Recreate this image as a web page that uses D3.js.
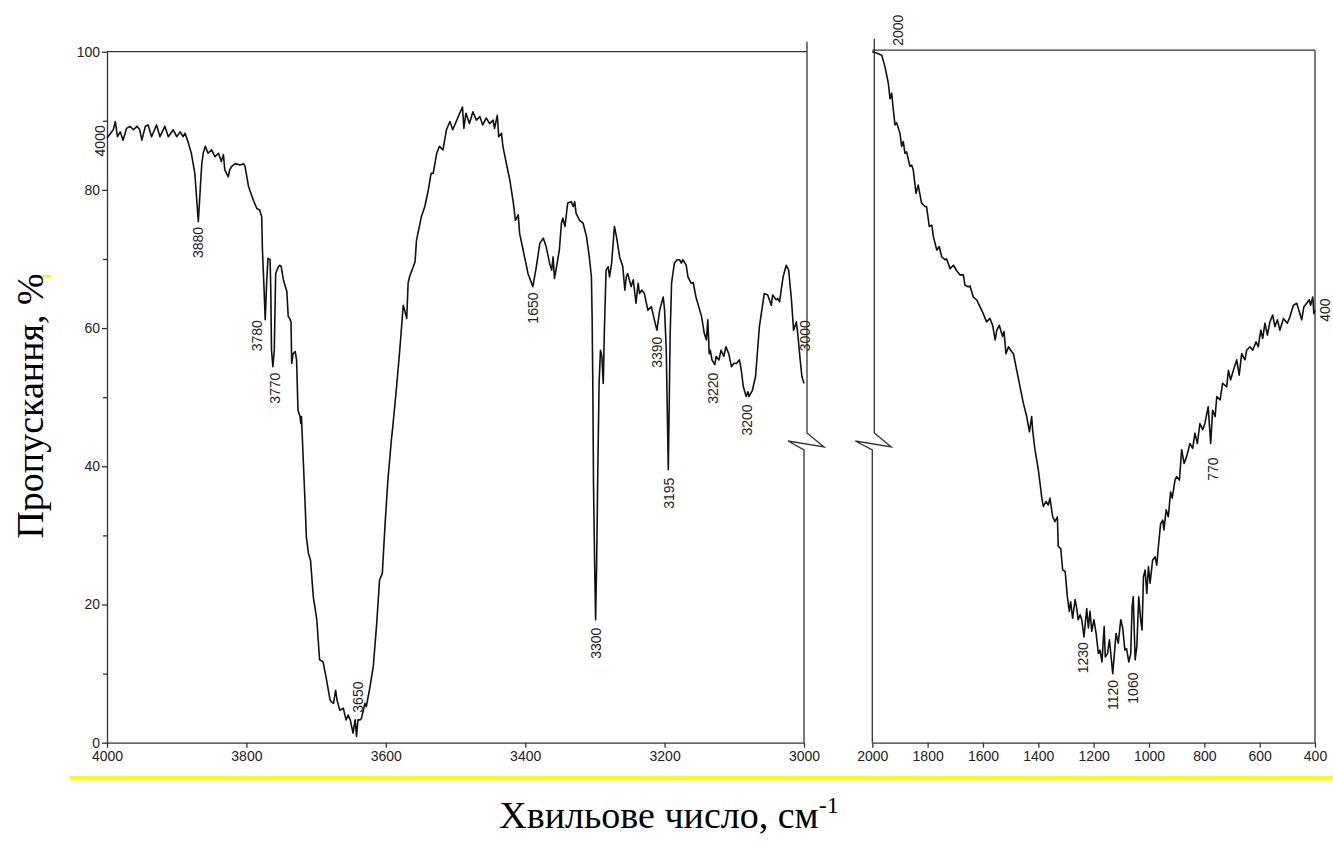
<!DOCTYPE html>
<html>
<head>
<meta charset="utf-8">
<script src="https://cdn.jsdelivr.net/npm/d3@7"></script>
<style>
  body { margin: 0; background: #fff; }
  svg text { font-family: "Liberation Sans", Arial, sans-serif; fill: #222; }
  .title { font-family: "Liberation Serif", "Times New Roman", serif; fill: #000; }
  .axis path, .axis line { stroke: #333; stroke-width: 1.3; }
  .axis text { font-size: 14px; }
</style>
</head>
<body>
<svg id="chart" width="1333" height="843"></svg>
<script>
// spectrum, 4000-3000 cm-1 (left panel)
const leftWn = [4000,3991,3988,3985,3981,3977,3972,3967,3962,3957,3953,3950,3945,3941,3936,3929,3924,3917,3912,3905,3900,3895,3891,3888,3883,3879,3874,3869,3866,3864,3862,3859,3855,3850,3845,3840,3836,3833,3831,3826,3824,3821,3816,3809,3804,3802,3797,3790,3785,3781,3778,3777,3775,3773,3771,3769,3766,3765,3764,3762,3760,3758,3754,3752,3750,3747,3742,3740,3738,3736,3735,3733,3730,3728,3726,3723,3722,3721,3718,3716,3714,3711,3708,3704,3699,3695,3690,3685,3680,3678,3675,3672,3670,3666,3661,3657,3654,3651,3647,3644,3642,3640,3637,3635,3630,3628,3623,3618,3613,3609,3605,3601,3597,3592,3590,3585,3580,3575,3573,3570,3568,3566,3558,3556,3549,3544,3539,3535,3532,3527,3523,3518,3513,3508,3504,3496,3490,3488,3485,3480,3475,3470,3465,3461,3456,3451,3446,3444,3440,3438,3434,3432,3427,3422,3417,3414,3410,3408,3403,3398,3396,3389,3384,3379,3374,3370,3365,3362,3360,3358,3355,3351,3348,3346,3343,3339,3334,3331,3329,3327,3322,3317,3312,3308,3305,3304,3303,3302,3300.4,3299,3297.5,3296,3294,3292,3290,3288,3286.5,3284,3281,3279,3276,3272,3269,3264.5,3260,3257,3255,3253,3248,3245,3241,3238,3236,3233,3229,3224,3219,3214,3211,3207,3202,3200,3197.6,3196,3194.7,3193.3,3192,3190,3186,3182,3178.5,3176,3174,3169,3166.5,3162,3159,3155,3147,3143,3140,3138,3136,3134.5,3132,3128,3126,3122,3119,3115,3112,3108,3104,3101,3097,3092.5,3090,3087,3083,3080.5,3079,3074,3069.5,3064,3057,3052,3047,3045,3040,3037.6,3035,3033,3030,3025.5,3022,3018,3015,3011,3009,3005.5,3003,3000];
const leftT = [87.5,88.7,89.9,87.7,88.4,87.2,88.9,89.2,88.7,89.2,88.7,87.2,89.2,89.4,87.7,89.4,87.7,89.2,87.7,88.7,87.7,88.4,87.7,88.2,86.7,85.3,82.4,75.4,80.5,83.8,85.3,86.3,85.3,85.8,84.8,85.3,84.1,85.1,82.9,81.9,82.9,83.4,83.8,83.6,83.8,83.4,80.5,78.5,77.3,77.1,76.1,71.3,66.5,61.2,66.5,70.1,69.9,65.5,56.8,54.4,56.8,67.9,68.9,69.1,68.9,67.0,65.3,61.7,61.4,60.9,54.9,56.3,56.6,55.4,48.1,47.2,46.2,47.2,39.9,35.1,29.8,27.4,26.4,21.1,17.8,12.0,11.7,9.1,6.2,5.9,5.7,7.6,6.2,4.7,5.0,3.3,4.0,3.3,1.4,3.3,0.9,3.3,3.3,3.5,5.7,5.2,7.9,11.0,17.3,23.5,24.5,31.7,38.0,43.8,45.7,51.0,56.8,63.3,62.6,61.4,66.5,67.4,69.6,72.7,76.1,77.6,80.0,82.4,82.4,85.3,86.3,85.8,88.7,89.9,88.7,90.6,92.0,88.9,91.1,89.6,91.3,90.1,90.6,89.4,90.4,89.6,90.1,88.9,90.8,87.7,88.2,86.3,83.8,81.4,78.1,75.6,76.4,73.7,71.3,68.9,67.9,66.0,68.9,72.3,73.0,71.8,69.4,68.4,70.3,67.2,68.9,71.3,75.2,75.9,74.7,78.1,78.3,77.6,78.3,76.6,75.6,75.2,73.2,70.3,67.4,61.7,52.0,37.5,26.0,17.8,26.0,38.0,52.0,56.8,55.9,52.0,59.2,68.4,68.9,67.4,69.4,74.7,73.2,70.3,68.9,65.5,67.4,67.9,66.0,67.0,63.6,66.5,65.0,65.5,65.0,62.6,63.1,60.9,59.7,62.6,64.5,62.6,56.8,47.2,39.5,49.6,59.2,66.5,69.4,69.9,69.9,69.4,69.9,69.1,67.4,66.5,66.6,64.5,61.7,59.2,58.3,61.2,56.3,56.8,55.4,54.7,55.9,55.4,56.8,55.9,57.3,56.3,54.4,54.9,54.9,55.4,53.9,51.5,50.1,50.8,50.1,51.0,53.0,60.2,65.0,64.8,63.3,64.8,64.1,64.3,63.8,65.3,67.4,69.1,68.4,64.1,59.7,60.9,59.2,55.4,53.0,52.0];

// spectrum, 2000-400 cm-1 (right panel)
const rightWn = [2000,1985,1966,1954,1942,1936,1930,1924,1918,1912,1900,1894,1888,1882,1876,1864,1858,1852,1842,1834,1822,1810,1804,1794,1785,1779,1767,1758,1749,1737,1731,1719,1707,1695,1683,1671,1665,1653,1647,1635,1623,1611,1599,1587,1575,1565,1556,1550,1541,1536,1529,1524,1517,1508,1500,1490,1478,1466,1454,1442,1432,1424,1420,1412,1400,1392,1388,1382,1372,1364,1358,1348,1340,1331,1328,1319,1312,1303,1295,1288,1283,1276,1267,1261,1256,1249,1243,1235,1225,1219,1213,1207,1199,1191,1183,1177,1170,1162,1158,1150,1143,1131,1124,1119,1111,1102,1095,1087,1081,1073,1066,1061,1057,1050,1044,1037,1030,1025,1020,1014,1008,1002,996,987,978,972,966,958,950,946,938,930,922,916,906,900,890,882,873,864,852,842,834,825,816,806,798,786,777,770,761,755,743,734,719,713,705,695,683,674,665,653,647,635,625,613,605,596,589,581,572,563,553,545,536,527,514,500,490,478,466,457,448,440,430,421,416,408,404,400];
const rightT = [100,99.8,99.5,97.8,95.4,93.2,94.0,91.6,89.4,89.7,88.2,86.3,87.0,85.3,85.5,83.4,83.6,82.9,79.5,80.7,78.1,77.6,77.6,74.7,74.9,73.2,71.3,71.8,70.3,69.9,70.0,68.6,69.1,68.3,67.7,67.7,66.2,66.0,66.1,64.5,64.1,63.1,62.1,60.9,61.4,60.4,58.3,59.7,60.4,59.7,58.8,59.5,56.3,57.3,56.8,56.3,53.9,51.5,49.1,47.2,45.0,47.2,45.0,42.4,39.5,37.0,35.6,34.2,34.9,34.4,35.4,32.7,32.0,32.7,28.4,28.1,25.0,24.8,21.1,19.0,20.4,18.0,20.7,19.4,17.8,18.5,17.8,15.3,19.4,16.6,19.0,16.1,17.8,15.8,12.9,13.4,11.7,16.8,12.4,12.9,14.9,10.0,13.4,15.8,14.4,17.8,16.6,13.4,13.6,11.7,12.9,19.7,21.1,12.0,13.9,21.1,17.8,16.3,24.0,25.0,21.6,25.5,23.1,26.4,26.9,25.7,28.4,31.7,32.2,30.8,33.7,32.7,36.3,35.4,38.0,38.5,38.0,42.4,40.4,41.4,43.3,42.6,44.8,43.3,46.2,45.3,46.2,48.6,43.3,48.1,47.2,50.1,49.6,52.0,51.5,53.9,52.5,53.9,55.4,53.2,56.3,55.4,56.8,57.3,56.8,58.0,57.3,59.7,58.5,60.7,59.0,60.9,61.9,60.2,61.2,59.7,61.4,60.7,61.7,63.3,63.6,62.4,61.2,63.1,63.6,64.1,63.3,64.5,62.1,62.6];

// axis ticks
const yTicks = [0, 20, 40, 60, 80, 100];
const yMinorTicks = [10, 30, 50, 70, 90];
const leftXTicks = [4000, 3800, 3600, 3400, 3200, 3000];
const rightXTicks = [2000, 1800, 1600, 1400, 1200, 1000, 800, 600, 400];

// peak annotations (text, wavenumber, transmittance where the label sits)
const leftLabelText = ["4000", "3880", "3780", "3770", "3650", "1650", "3300", "3390", "3195", "3220", "3200", "3000"];
const leftLabelWn = [4010, 3869, 3785, 3759, 3640, 3389, 3299, 3211, 3194, 3131, 3081, 2998];
const leftLabelT = [87.1, 72.4, 58.9, 51.3, 6.6, 62.9, 14.4, 56.5, 36.1, 51.3, 46.7, 58.9];
const rightLabelText = ["2000", "1230", "1120", "1060", "770", "400"];
const rightLabelWn = [1907, 1238, 1130, 1058, 768, 363];
const rightLabelT = [103.1, 12.3, 6.9, 7.9, 39.6, 62.6];

const svg = d3.select("#chart");

const yTop = 51.7, yBottom = 742.7;
const yScale = d3.scaleLinear().domain([0, 100]).range([yBottom, yTop]);
const xLeft = d3.scaleLinear().domain([4000, 3000]).range([107, 804]);
const xRight = d3.scaleLinear().domain([2000, 400]).range([872.3, 1315]);
const fmt = d3.format("d");

// yellow highlight marks of the source image
svg.append("rect").attr("x", 70).attr("y", 776).attr("width", 1263).attr("height", 4).attr("fill", "#ffff00");
svg.append("rect").attr("x", 37).attr("y", 275).attr("width", 14).attr("height", 3).attr("fill", "#ffff00");

const frame = svg.append("g").attr("fill", "none").attr("stroke", "#333").attr("stroke-width", 1.3);

// left panel: top + right border with the axis break
frame.append("line").attr("x1", xLeft(4000)).attr("x2", 807).attr("y1", yTop).attr("y2", yTop);
const breakY = 433;
const breakPath = (xt, xb, top) => `M${xt},${top}L${xt},${breakY}L${xt + 17},${breakY + 14}L${xt - 19},${breakY + 8}L${xb},${breakY + 17}L${xb},${yBottom}`;
frame.append("path").attr("d", breakPath(807, xLeft(3000), yTop - 10));

// right panel: left border with break, top, right border
frame.append("path").attr("d", breakPath(874.3, xRight(2000), yTop - 13));
frame.append("line").attr("x1", xRight(2000)).attr("x2", xRight(400)).attr("y1", yTop - 1.5).attr("y2", yTop - 1.5);
frame.append("line").attr("x1", xRight(400)).attr("x2", xRight(400)).attr("y1", yTop - 1.5).attr("y2", yBottom);

// axes
svg.append("g").attr("class", "axis")
  .attr("transform", `translate(0,${yBottom})`)
  .call(d3.axisBottom(xLeft).tickValues(leftXTicks).tickFormat(fmt).tickSize(5).tickSizeOuter(0).tickPadding(3));
svg.append("g").attr("class", "axis")
  .attr("transform", `translate(0,${yBottom})`)
  .call(d3.axisBottom(xRight).tickValues(rightXTicks).tickFormat(fmt).tickSize(5).tickSizeOuter(0).tickPadding(3));
svg.append("g").attr("class", "axis")
  .attr("transform", `translate(${xLeft(4000)},0)`)
  .call(d3.axisLeft(yScale).tickValues(yTicks).tickFormat(fmt).tickSize(5).tickSizeOuter(0).tickPadding(2));
svg.append("g").attr("class", "axis")
  .attr("transform", `translate(${xLeft(4000)},0)`)
  .call(d3.axisLeft(yScale).tickValues(yMinorTicks).tickSize(4).tickFormat(""))
  .select(".domain").remove();

// spectrum lines
const lineL = d3.line().x((d, i) => xLeft(leftWn[i])).y(d => yScale(d));
const lineR = d3.line().x((d, i) => xRight(rightWn[i])).y(d => yScale(d));
svg.append("path").datum(leftT).attr("d", lineL)
  .attr("fill", "none").attr("stroke", "#111").attr("stroke-width", 1.6).attr("stroke-linejoin", "round");
svg.append("path").datum(rightT).attr("d", lineR)
  .attr("fill", "none").attr("stroke", "#111").attr("stroke-width", 1.6).attr("stroke-linejoin", "round");

// peak labels
const addLabels = (texts, wns, ts, xs) => {
  svg.append("g").selectAll("text").data(texts).join("text")
    .attr("transform", (d, i) => `translate(${xs(wns[i])},${yScale(ts[i])}) rotate(-90)`)
    .attr("text-anchor", "middle")
    .attr("dy", "0.35em")
    .attr("font-size", 14)
    .text(d => d);
};
addLabels(leftLabelText, leftLabelWn, leftLabelT, xLeft);
addLabels(rightLabelText, rightLabelWn, rightLabelT, xRight);

// titles
svg.append("text").attr("class", "title")
  .attr("transform", "translate(43,406) rotate(-90)")
  .attr("text-anchor", "middle")
  .attr("font-size", 38)
  .text("Пропускання, %");

const xt = svg.append("text").attr("class", "title")
  .attr("x", 669).attr("y", 828)
  .attr("text-anchor", "middle")
  .attr("font-size", 38);
xt.append("tspan").text("Хвильове число, см");
xt.append("tspan").attr("dy", -15).attr("font-size", 24).text("-1");
</script>
</body>
</html>
